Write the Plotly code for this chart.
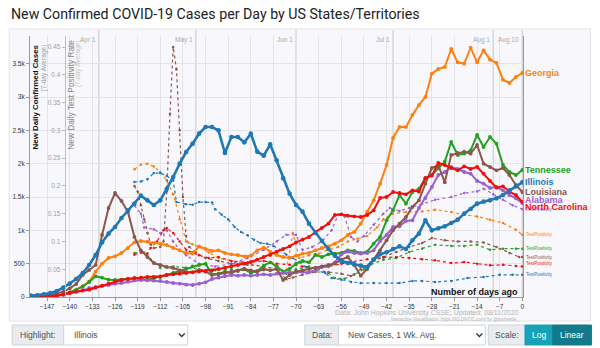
import plotly.graph_objects as go

# ---------------- data ----------------
days = list(range(-152, 1, 2))

cases_illinois = [20,25,40,60,90,140,200,270,360,480,
    630,820,950,1050,1185,1300,1400,1520,1450,1380,
    1450,1620,1800,2000,2175,2300,2450,2550,2550,2500,
    2160,2400,2400,2320,2450,2180,2120,2290,2050,1780,
    1550,1380,1280,1100,960,840,720,620,540,510,
    490,470,450,560,640,670,720,760,720,850,
    950,1150,1000,1030,1060,1110,1160,1250,1320,1400,
    1430,1450,1480,1530,1600,1660,1720]
cases_georgia = [5,8,10,15,25,40,70,110,160,230,
    380,500,585,610,660,735,820,840,830,810,
    800,780,735,700,660,650,760,720,690,700,
    660,640,630,610,620,700,740,680,630,600,
    585,620,650,660,700,735,760,800,850,930,
    975,1100,1280,1450,1700,1980,2385,2550,2550,2730,
    2880,3000,3350,3420,3450,3720,3520,3500,3740,3520,
    3700,3560,3510,3260,3210,3300,3360]
cases_tennessee = [0,2,5,10,20,40,70,110,160,225,
    310,290,260,255,260,270,280,270,260,280,
    300,330,360,390,430,460,480,500,340,350,
    380,360,400,420,360,390,470,520,460,380,
    420,500,540,520,630,600,640,650,660,700,
    690,660,680,800,900,1150,1300,1530,1400,1575,
    1620,1780,1830,1930,2030,2325,2130,2150,2200,2430,
    2250,2400,2300,1980,1875,1830,1905]
cases_louisiana = [0,5,15,30,50,80,130,195,330,405,
    480,930,1335,1560,1440,1275,900,700,600,510,
    480,450,435,400,375,370,400,380,330,340,
    360,380,390,420,400,380,420,400,420,255,
    330,380,400,420,440,460,480,500,560,600,
    480,320,420,560,700,850,1000,1100,1200,1350,
    1450,1700,1935,1980,1720,2130,2160,2180,2150,2280,
    2000,1950,1900,1935,1830,1680,1575]
cases_alabama = [0,2,5,10,20,35,55,80,105,135,
    150,165,180,200,210,230,250,255,250,245,
    240,225,210,200,185,180,200,220,270,290,
    310,330,320,330,320,330,340,330,350,360,
    370,370,380,370,400,450,460,520,640,680,
    660,650,660,700,840,930,1050,1060,1140,1150,
    1335,1485,1650,1830,1875,1950,1920,1875,1850,1740,
    1700,1635,1650,1600,1530,1480,1410]
cases_north_carolina = [0,2,5,10,20,35,60,80,95,110,
    140,170,200,230,255,270,285,290,300,300,
    310,330,340,350,360,370,380,390,400,420,
    440,460,480,500,525,560,600,630,680,720,
    760,820,860,900,975,1035,1100,1230,1240,1220,
    1210,1200,1230,1300,1485,1500,1575,1560,1540,1600,
    1580,1785,1820,2010,1980,1935,1900,1960,1920,1950,
    1850,1740,1640,1660,1580,1530,1425]

tp_il_days = [-120,-118,-116,-114,-112,-110,-108,-107,-104,-102,
    -100,-98,-96,-95,-93,-91,-89,-87,-85,-83,
    -81,-79,-77,-75,-73,-71,-69,-67,-64,-61,
    -59,-56,-53,-50,-46,-42,-38,-34,-31,-27,
    -22,-17,-12,-7,-3,0]
tp_il = [0.207,0.208,0.212,0.223,0.223,0.218,0.21,0.171,0.167,0.166,
    0.171,0.171,0.17,0.158,0.148,0.14,0.126,0.117,0.111,0.103,
    0.097,0.096,0.092,0.085,0.076,0.07,0.063,0.054,0.049,0.043,
    0.034,0.031,0.027,0.025,0.025,0.025,0.025,0.029,0.029,0.027,
    0.029,0.034,0.036,0.04,0.04,0.04]
tp_ga_days = [-120,-118,-116,-114,-112,-110,-108,-106,-104,-102,
    -100,-97,-94,-90,-85,-80,-76,-73,-71,-69,
    -66,-63,-60,-57,-54,-51,-48,-45,-43,-40,
    -36,-31,-27,-22,-18,-14,-10,-6,-2,0]
tp_ga = [0.23,0.238,0.24,0.235,0.225,0.21,0.185,0.14,0.1,0.095,
    0.09,0.08,0.07,0.065,0.06,0.055,0.05,0.048,0.115,0.07,
    0.075,0.078,0.085,0.09,0.1,0.105,0.11,0.125,0.14,0.15,
    0.153,0.154,0.157,0.153,0.148,0.145,0.139,0.133,0.121,0.112]
tp_tn_days = [-120,-117,-115,-112,-108,-104,-100,-95,-90,-85,
    -80,-76,-73,-70,-66,-63,-60,-58,-55,-52,
    -49,-47,-43,-39,-35,-31,-27,-22,-18,-14,
    -10,-6,-2,0]
tp_tn = [0.079,0.08,0.068,0.052,0.055,0.052,0.05,0.048,0.05,0.047,
    0.048,0.05,0.042,0.05,0.055,0.05,0.043,0.034,0.033,0.04,
    0.05,0.058,0.067,0.07,0.081,0.087,0.094,0.092,0.092,0.094,
    0.085,0.087,0.087,0.087]
tp_la_days = [-120,-119,-118,-117,-116,-115,-114,-112,-111,-110,
    -109,-108,-107,-106,-105,-104,-103,-101,-98,-94,
    -90,-85,-80,-76,-73,-71,-68,-64,-60,-56,
    -53,-50,-47,-43,-39,-35,-31,-28,-24,-20,
    -16,-12,-8,-4,-1,0]
tp_la = [0.2,0.19,0.165,0.14,0.115,0.095,0.088,0.09,0.1,0.19,
    0.33,0.45,0.41,0.3,0.18,0.11,0.09,0.08,0.07,0.065,
    0.06,0.058,0.055,0.05,0.032,0.035,0.04,0.045,0.045,0.042,
    0.038,0.05,0.062,0.072,0.081,0.09,0.097,0.106,0.102,0.1,
    0.1,0.098,0.09,0.079,0.072,0.072]
tp_al_days = [-120,-118,-117,-114,-112,-110,-108,-106,-104,-100,
    -95,-90,-85,-80,-76,-73,-70,-68,-65,-62,
    -59,-57,-55,-53,-51,-49,-46,-43,-41,-38,
    -35,-31,-27,-22,-18,-14,-12,-9,-6,-3,0]
tp_al = [0.165,0.15,0.125,0.122,0.115,0.12,0.1,0.085,0.075,0.06,
    0.055,0.06,0.07,0.085,0.1,0.112,0.112,0.085,0.09,0.1,
    0.12,0.148,0.145,0.108,0.1,0.11,0.13,0.15,0.16,0.155,
    0.16,0.168,0.175,0.18,0.187,0.19,0.195,0.185,0.175,0.165,0.158]
tp_nc_days = [-120,-118,-116,-115,-113,-111,-110,-108,-106,-104,
    -102,-100,-97,-94,-90,-85,-80,-76,-72,-68,
    -64,-60,-56,-53,-48,-43,-39,-35,-31,-27,
    -22,-18,-14,-10,-6,-2,0]
tp_nc = [0.076,0.08,0.078,0.088,0.1,0.12,0.124,0.115,0.1,0.085,
    0.08,0.075,0.07,0.072,0.065,0.062,0.065,0.06,0.058,0.055,
    0.052,0.055,0.06,0.063,0.068,0.071,0.072,0.07,0.068,0.066,
    0.061,0.063,0.06,0.057,0.058,0.056,0.055]

x_ticks = list(range(-147, 1, 7))
case_ticks = [0, 500, 1000, 1500, 2000, 2500, 3000, 3500]
case_tick_text = ["0", "500", "1k", "1.5k", "2k", "2.5k", "3k", "3.5k"]
tp_ticks = [0.05, 0.1, 0.15, 0.2, 0.25, 0.3, 0.35, 0.4, 0.45]
tp_tick_text = ["0.05", "0.1", "0.15", "0.2", "0.25", "0.3", "0.35", "0.4", "0.45"]
month_days = [-131, -101, -70, -40, -9, 0]
month_labels = ["Apr 1", "May 1", "Jun 1", "Jul 1", "Aug 1", "Aug 10"]

states = ["Georgia", "Tennessee", "Alabama", "Louisiana", "North Carolina", "Illinois"]
cases = {"Georgia": cases_georgia, "Tennessee": cases_tennessee, "Alabama": cases_alabama,
         "Louisiana": cases_louisiana, "North Carolina": cases_north_carolina, "Illinois": cases_illinois}
tp = {"Georgia": (tp_ga_days, tp_ga), "Tennessee": (tp_tn_days, tp_tn), "Alabama": (tp_al_days, tp_al),
      "Louisiana": (tp_la_days, tp_la), "North Carolina": (tp_nc_days, tp_nc), "Illinois": (tp_il_days, tp_il)}
colors = {"Georgia": "#ff7f0e", "Tennessee": "#22a022", "Alabama": "#9a5fd0",
          "Louisiana": "#8c564b", "North Carolina": "#f20d0d", "Illinois": "#1f77b4"}
label_shift = {"Georgia": 0, "Tennessee": 0, "Alabama": 3, "Louisiana": 0, "North Carolina": -5, "Illinois": 0}
tp_label_shift = {"Georgia": 0, "Tennessee": 0, "Alabama": 0, "Louisiana": 0, "North Carolina": 3, "Illinois": 0}

# ---------------- layout geometry (pixels) ----------------
W, H = 600, 348
PL, PR, PT, PB = 26, 523, 36, 297


def xp(px):
    return (px - PL) / (PR - PL)


def yp(py):
    return (PB - py) / (PB - PT)


FONT = "Liberation Sans"

fig = go.Figure()

# positivity (dotted) on base axis
for s in states:
    d, v = tp[s]
    fig.add_trace(go.Scatter(x=d, y=v, yaxis="y", mode="lines+markers",
                             line=dict(color=colors[s], width=1.2, dash="dot"),
                             marker=dict(size=2.5, color=colors[s]),
                             showlegend=False, hoverinfo="skip"))

# cases on overlay axis
for s in states:
    hl = s == "Illinois"
    fig.add_trace(go.Scatter(x=days, y=cases[s], yaxis="y2", mode="lines+markers",
                             line=dict(color=colors[s], width=2.6 if hl else 2.0),
                             marker=dict(size=4.6 if hl else 3.8, color=colors[s]),
                             showlegend=False, hoverinfo="skip"))

shapes = []
# card
shapes.append(dict(type="rect", xref="paper", yref="paper", x0=xp(5), x1=xp(591), y0=yp(321), y1=yp(29),
                   fillcolor="#f8f8fc", line=dict(color="#e2e2e8", width=1), layer="below"))
# month lines
for d in month_days:
    shapes.append(dict(type="line", xref="x", yref="paper", x0=d, x1=d, y0=0, y1=yp(30),
                       line=dict(color="#d4d4d8", width=1.4), layer="below"))

# controls
def box(x0, x1, fill, border="#ced4da"):
    shapes.append(dict(type="rect", xref="paper", yref="paper", x0=xp(x0), x1=xp(x1),
                       y0=yp(345), y1=yp(325), fillcolor=fill, line=dict(color=border, width=1), layer="above"))

box(8, 60, "#e9ecef")
box(60, 185, "#ffffff")
box(303, 337, "#e9ecef")
box(337, 485, "#ffffff")
box(488, 525, "#e9ecef")
box(525, 553, "#17a2b8", "#17a2b8")
box(553, 592, "#117a8b", "#117a8b")


def chevron(cx):
    pts = [(cx - 3, 333.5), (cx, 336.5), (cx + 3, 333.5)]
    path = "M " + " L ".join(f"{xp(a):.5f},{yp(b):.5f}" for a, b in pts)
    shapes.append(dict(type="path", xref="paper", yref="paper", path=path,
                       line=dict(color="#333", width=1.3), layer="above"))

chevron(179)
chevron(479)

ann = []


def text(px, py, t, size, color, xanchor="left", bold=False, angle=0, yanchor="middle", font=FONT):
    ann.append(dict(xref="paper", yref="paper", x=xp(px), y=yp(py), text=f"<b>{t}</b>" if bold else t,
                    showarrow=False, xanchor=xanchor, yanchor=yanchor, textangle=angle,
                    font=dict(size=size, color=color, family=font)))

# title
text(5, 14, "New Confirmed COVID-19 Cases per Day by US States/Territories", 14.2, "#222", font="Roboto")
# axis titles
text(32, 42, "New Daily Confirmed Cases", 7.9, "#111", xanchor="center", bold=True, angle=-90, yanchor="top")
text(40, 42, "(7-day Average)", 6.6, "#a0a0a0", xanchor="center", angle=-90, yanchor="top")
text(67, 38, "New Daily Test Positivity Rate", 8.3, "#858585", xanchor="center", angle=-90, yanchor="top")
text(75, 38, "(7-day Average)", 6.6, "#c4c4c4", xanchor="center", angle=-90, yanchor="top")
text(520, 292, "Number of days ago", 9, "#111", xanchor="right", bold=True)
text(521, 313, "Data: John Hopkins University CSSE; Updated: 08/11/2020", 7, "#b4b4b4", xanchor="right")
text(521, 319, "Interactive Visualization: https://91-DIVOC.com/ by @profwade_", 4.5, "#b4b4b4", xanchor="right")

# month labels
for d, lab in zip(month_days, month_labels):
    ann.append(dict(xref="x", yref="paper", x=d, y=yp(34), text=lab, showarrow=False, xanchor="right",
                    xshift=-1, font=dict(size=6.5, color="#aaaaaa", family=FONT)))

# state labels
for s in states:
    ann.append(dict(xref="x", yref="y2", x=0, y=cases[s][-1], text=f"<b>{s}</b>", showarrow=False,
                    xanchor="left", xshift=1, yshift=label_shift[s],
                    font=dict(size=9, color=colors[s], family=FONT)))
    d, v = tp[s]
    ann.append(dict(xref="x", yref="y", x=0, y=v[-1], text="TestPositivity", showarrow=False,
                    xanchor="left", xshift=2, yshift=tp_label_shift[s],
                    font=dict(size=4.5, color=colors[s], family=FONT)))

# control texts
text(34, 335, "Highlight:", 8.5, "#495057", xanchor="center")
text(68, 335, "Illinois", 8.5, "#495057")
text(320, 335, "Data:", 8.5, "#495057", xanchor="center")
text(345, 335, "New Cases, 1 Wk. Avg.", 8.5, "#495057")
text(506.5, 335, "Scale:", 8.5, "#495057", xanchor="center")
text(539, 335, "Log", 8.5, "#ffffff", xanchor="center")
text(572.5, 335, "Linear", 8.5, "#ffffff", xanchor="center")

fig.update_layout(
    width=W, height=H,
    margin=dict(l=PL, r=W - PR, t=PT, b=H - PB, pad=0),
    paper_bgcolor="#ffffff", plot_bgcolor="rgba(0,0,0,0)",
    font=dict(family=FONT),
    shapes=shapes, annotations=ann,
    xaxis=dict(range=[-152.3, 0.2], tickvals=x_ticks, ticks="outside", ticklen=3, tickcolor="#999",
               tickfont=dict(size=6.5, color="#333"), showgrid=True, gridcolor="#e4e4e8", gridwidth=1,
               showline=True, linecolor="#999", linewidth=1, zeroline=False, fixedrange=True),
    yaxis=dict(range=[0, 0.4698], anchor="free", position=xp(61), side="left",
               tickvals=tp_ticks, ticktext=tp_tick_text, ticks="outside", ticklen=3, tickcolor="#bbb",
               tickfont=dict(size=6.5, color="#a0a0a0"), showgrid=False, showline=True,
               linecolor="#c0c0c0", linewidth=1, zeroline=False),
    yaxis2=dict(range=[0, 3915], overlaying="y", anchor="x", side="left",
                tickvals=case_ticks, ticktext=case_tick_text, ticks="outside", ticklen=3, tickcolor="#999",
                tickfont=dict(size=6.5, color="#333"), showgrid=True, gridcolor="#e4e4e8",
                showline=True, mirror=True, linecolor="#999", linewidth=1, zeroline=False),
)

fig.write_html("out.html")
